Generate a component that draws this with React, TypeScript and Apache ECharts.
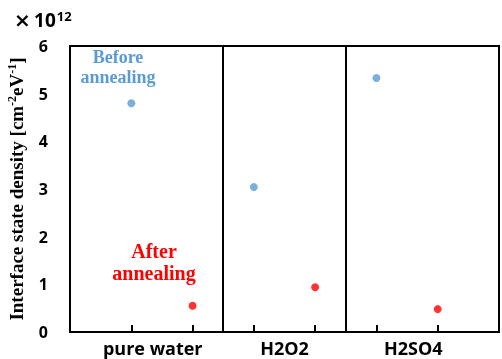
import React, { useEffect, useRef } from "react";
import * as echarts from "echarts";

const categories = ["pure water", "H2O2", "H2SO4"];
const beforeValues = [4.8, 3.04, 5.33];
const afterValues = [0.55, 0.94, 0.48];
const yTicks = [0, 1, 2, 3, 4, 5, 6];
const labelPositions = [1.35, 3.5, 5.6];

export default function App() {
  const ref = useRef<HTMLDivElement>(null);
  useEffect(() => {
    if (!ref.current) return;
    const chart = echarts.init(ref.current, undefined, { renderer: "svg" });
    const beforeData = beforeValues.map((v, i) => [2 * i + 1, v]);
    const afterData = afterValues.map((v, i) => [2 * i + 2, v]);
    const tickPos = categories.flatMap((_, i) => [2 * i + 1, 2 * i + 2]);
    const dividers = categories.slice(1).map((_, i) => ({ xAxis: 2 * i + 2.5 }));
    const xMax = categories.length * 2 + 1;
    chart.setOption({
      animation: false,
      grid: {
        left: 70,
        right: 3,
        top: 46,
        bottom: 27,
        show: true,
        borderColor: "#000",
        borderWidth: 2,
        outerBoundsMode: "none",
        containLabel: false,
      },
      xAxis: [
        {
          type: "value",
          min: 0,
          max: xMax,
          interval: 1,
          splitLine: { show: false },
          axisLine: { show: true, lineStyle: { color: "#000", width: 2 } },
          axisTick: {
            show: true,
            inside: true,
            length: 7,
            customValues: tickPos,
            lineStyle: { color: "#000", width: 2 },
          },
          axisLabel: { show: false },
        },
        {
          type: "value",
          min: 0,
          max: xMax,
          position: "bottom",
          offset: 0,
          splitLine: { show: false },
          axisLine: { show: false },
          axisTick: { show: false },
          axisLabel: {
            show: true,
            customValues: labelPositions,
            formatter: (v: number) => {
              let best = 0;
              labelPositions.forEach((p, i) => {
                if (Math.abs(p - v) < Math.abs(labelPositions[best] - v)) best = i;
              });
              return categories[best];
            },
            fontFamily: "Open Sans",
            fontWeight: "bold",
            fontSize: 18,
            color: "#000",
            margin: 7,
          },
        },
      ],
      yAxis: {
        type: "value",
        min: 0,
        max: yTicks[yTicks.length - 1],
        interval: 1,
        splitLine: { show: false },
        axisLine: { show: true, lineStyle: { color: "#000", width: 2 } },
        axisTick: { show: false },
        axisLabel: {
          fontFamily: "Open Sans",
          fontWeight: "bold",
          fontSize: 16,
          color: "#000",
          margin: 22,
        },
        name: "{t|Interface state density [cm}{sup|-2}{t|eV}{sup|-1}{t|]}",
        nameLocation: "middle",
        nameGap: 44,
        nameRotate: 90,
        nameTextStyle: {
          fontFamily: "Liberation Serif",
          fontWeight: "bold",
          fontSize: 19,
          color: "#000",
          rich: {
            t: {
              fontFamily: "Liberation Serif",
              fontWeight: "bold",
              fontSize: 19,
              color: "#000",
            },
            sup: {
              fontFamily: "Liberation Serif",
              fontWeight: "bold",
              fontSize: 12,
              color: "#000",
              verticalAlign: "top",
              padding: [0, 0, 8, 0],
            },
          },
        },
      },
      series: [
        {
          name: "Before annealing",
          type: "scatter",
          symbolSize: 8,
          itemStyle: { color: "#5b9bd5" },
          data: beforeData,
          markLine: {
            silent: true,
            symbol: "none",
            label: { show: false },
            lineStyle: { color: "#000", width: 2, type: "solid" },
            data: dividers,
          },
        },
        {
          name: "After annealing",
          type: "scatter",
          symbolSize: 8,
          itemStyle: { color: "#ff0000" },
          data: afterData,
        },
      ],
      graphic: [
        {
          type: "text",
          left: 14,
          top: 9,
          style: {
            text: "{x|×} {n|10}{sup|12}",
            rich: {
              x: {
                fontFamily: "DejaVu Sans",
                fontWeight: "bold",
                fontSize: 20,
                fill: "#000",
                color: "#000",
              },
              n: {
                fontFamily: "Open Sans",
                fontWeight: "bold",
                fontSize: 19,
                fill: "#000",
                color: "#000",
              },
              sup: {
                fontFamily: "Open Sans",
                fontWeight: "bold",
                fontSize: 13,
                fill: "#000",
                color: "#000",
                verticalAlign: "top",
                padding: [0, 0, 8, 1],
              },
            },
          },
        },
        {
          type: "text",
          x: 118,
          y: 47,
          style: {
            text: "Before\nannealing",
            align: "center",
            fontFamily: "Liberation Serif",
            fontWeight: "bold",
            fontSize: 18,
            lineHeight: 20,
            fill: "#5b9bd5",
          },
        },
        {
          type: "text",
          x: 154,
          y: 240,
          style: {
            text: "After\nannealing",
            align: "center",
            fontFamily: "Liberation Serif",
            fontWeight: "bold",
            fontSize: 20,
            lineHeight: 22,
            fill: "#ff0000",
          },
        },
      ],
    });
    return () => chart.dispose();
  }, []);
  return (
    <div
      ref={ref}
      style={{ position: "fixed", left: 0, top: 0, width: 502, height: 359 }}
    />
  );
}
